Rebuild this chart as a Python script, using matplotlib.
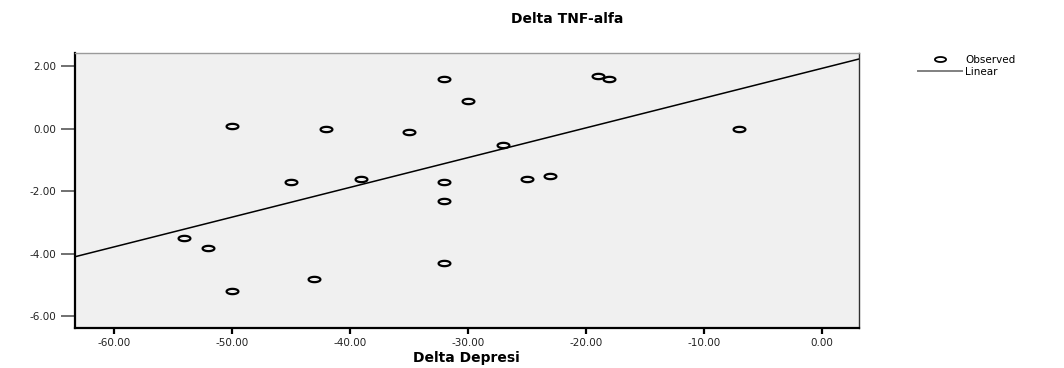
import numpy as np
import matplotlib
matplotlib.use("Agg")
import matplotlib.pyplot as plt
from matplotlib.path import Path

# ── Data ──────────────────────────────────────────────────────────────────────
delta_depresi = [-50, -42, -35, -32, -30, -27, -45, -39, -32, -32,
                 -25, -23, -19, -18, -7, -54, -52, -50, -43, -32]
delta_tnf = [0.1, 0.0, -0.1, 1.6, 0.9, -0.5, -1.7, -1.6, -1.7, -2.3,
             -1.6, -1.5, 1.7, 1.6, 0.0, -3.5, -3.8, -5.2, -4.8, -4.3]

x_ticks = [-60, -50, -40, -30, -20, -10, 0]
y_ticks = [2, 0, -2, -4, -6]

TITLE = "Delta TNF-alfa"
XLABEL = "Delta Depresi"
LEGEND_LABELS = ["Observed", "Linear"]

# ── Style ─────────────────────────────────────────────────────────────────────
plt.rcParams["font.family"] = ["DejaVu Sans"]
BG = "#F0F0F0"

# the source image is stretched sideways, so the circles are flat ellipses
theta = np.linspace(0, 2 * np.pi, 61)
ellipse = Path(np.column_stack([np.cos(theta), 0.45 * np.sin(theta)]), closed=True)

fig = plt.figure(figsize=(10.64, 3.68), dpi=100)
ax = fig.add_axes([0.0702, 0.1079, 0.7371, 0.7481])
ax.set_facecolor(BG)

x = np.array(delta_depresi, dtype=float)
y = np.array(delta_tnf, dtype=float)

obs, = ax.plot(x, y, linestyle="none", marker=ellipse, ms=8.5,
               mfc="none", mec="black", mew=1.6, zorder=3)

ax.set_xlim(-63.3, 3.15)
ax.set_ylim(-6.38, 2.43)

# linear fit across the whole x range
slope, intercept = np.polyfit(x, y, 1)
xs = np.array(ax.get_xlim())
lin, = ax.plot(xs, intercept + slope * xs, color="black", lw=1.1, zorder=2)

# ── Axes cosmetics ────────────────────────────────────────────────────────────
ax.spines["left"].set_color("black")
ax.spines["left"].set_linewidth(1.6)
ax.spines["bottom"].set_color("black")
ax.spines["bottom"].set_linewidth(1.6)
ax.spines["top"].set_color("#9a9a9a")
ax.spines["top"].set_linewidth(1.0)
ax.spines["right"].set_color("#303030")
ax.spines["right"].set_linewidth(1.0)

ax.set_xticks(x_ticks)
ax.set_xticklabels([f"{v:.2f}" for v in x_ticks])
ax.set_yticks(y_ticks)
ax.set_yticklabels([f"{v:.2f}" for v in y_ticks])

ax.tick_params(axis="y", direction="out", length=10, width=1.4,
               color="#707070", pad=3, labelsize=7.5, labelcolor="#222222")
ax.tick_params(axis="x", direction="out", length=4, width=1.6,
               color="black", pad=3, labelsize=7.5, labelcolor="#222222")

ax.set_xlabel(XLABEL, fontsize=10, fontweight="bold", labelpad=2)
fig.text(567 / 1064, 1 - 19 / 368, TITLE, ha="center", va="center",
         fontsize=10, fontweight="bold")

# ── Legend ────────────────────────────────────────────────────────────────────
leg = fig.legend([obs, lin], LEGEND_LABELS, loc="upper left",
                 bbox_to_anchor=(918 / 1064, 1 - 55 / 368), frameon=False,
                 fontsize=7.5, handlelength=4.2, handletextpad=0.35,
                 labelspacing=0.2, borderpad=0, borderaxespad=0)
leg.get_lines()[0].set_markersize(8)
leg.get_lines()[0].set_markeredgewidth(1.3)
leg.get_lines()[1].set_color("#808080")
leg.get_lines()[1].set_linewidth(1.4)

fig.savefig("out.png", dpi=100)
